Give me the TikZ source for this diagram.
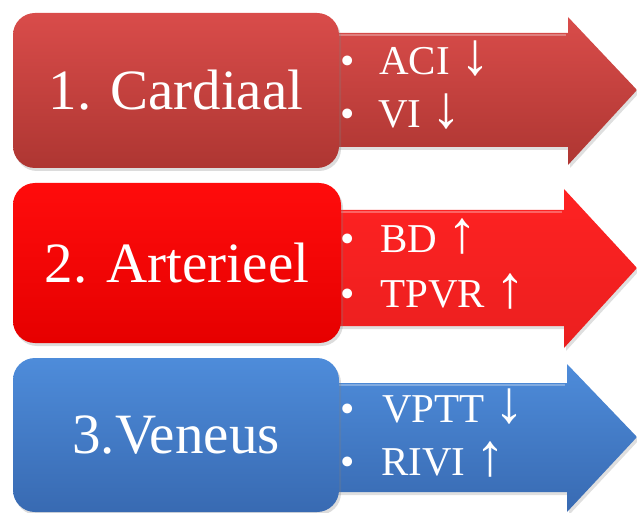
\documentclass[tikz,border=0pt]{standalone}
\usepackage{fontspec}
\setmainfont{Liberation Serif}
\usetikzlibrary{shadows}
\definecolor{cAtop}{RGB}{217,76,74}
\definecolor{cAbot}{RGB}{174,54,50}
\definecolor{cBtop}{RGB}{255,12,12}
\definecolor{cBbot}{RGB}{230,0,0}
\definecolor{cBarr}{RGB}{255,34,34}
\definecolor{cCtop}{RGB}{78,140,218}
\definecolor{cCbot}{RGB}{56,106,178}
\newcommand{\dnarr}{{\fontsize{60}{60}\selectfont ↓}}
\newcommand{\uparr}{{\fontsize{60}{60}\selectfont ↑}}
\tikzset{
  box/.style={rounded corners=22pt, inner sep=0pt, text=white,
    font=\fontsize{57}{60}\selectfont,
    drop shadow={opacity=0.28, shadow xshift=2pt, shadow yshift=-3pt}},
  arrowbody/.style={drop shadow={opacity=0.25, shadow xshift=2pt, shadow yshift=-3pt}},
  hilite/.style={draw=white, draw opacity=0.3, line width=2pt},
  item/.style={inner sep=0pt, text=white, font=\fontsize{41}{44}\selectfont},
}
\begin{document}
\begin{tikzpicture}[x=1pt,y=-1pt]
\useasboundingbox (0,0) rectangle (637,513);
% ---- row 1 ----
\path[arrowbody, top color=cAtop, bottom color=cAbot]
  (330,33) -- (568,33) -- (568,17) -- (637,90) -- (568,165) -- (568,147) -- (330,147) -- cycle;
\path[hilite] (330,35) -- (566,35);
\node[box, top color=cAtop, bottom color=cAbot, minimum width=326pt, minimum height=155pt]
  (card) at (176,90.5) {1. Cardiaal};
\node[item, anchor=base] (b1) at (348,75) {•};
\node[item, anchor=base west] (aci) at (379,75) {ACI \dnarr};
\node[item, anchor=base] (b2) at (348,128) {•};
\node[item, anchor=base west] (vi) at (378,128) {VI \dnarr};
% ---- row 2 ----
\path[arrowbody, top color=cBarr, bottom color=cBarr!92!black]
  (330,210) -- (564,210) -- (564,189) -- (637,268) -- (564,348) -- (564,326) -- (330,326) -- cycle;
\path[hilite] (330,212) -- (562,212);
\node[box, top color=cBtop, bottom color=cBbot, minimum width=328pt, minimum height=160pt]
  (art) at (177,263) {2. Arterieel};
\node[item, anchor=base] (b3) at (348,252) {•};
\node[item, anchor=base west] (bd) at (380,252) {BD \uparr};
\node[item, anchor=base] (b4) at (348,307) {•};
\node[item, anchor=base west] (tpvr) at (380,307) {TPVR \uparr};
% ---- row 3 ----
\path[arrowbody, top color=cCtop, bottom color=cCbot]
  (330,383) -- (567,383) -- (567,364) -- (637,437) -- (567,512) -- (567,492) -- (330,492) -- cycle;
\path[hilite] (330,385) -- (565,385);
\node[box, top color=cCtop, bottom color=cCbot, minimum width=326pt, minimum height=154pt]
  (ven) at (176,435) {3.Veneus};
\node[item, anchor=base] (b5) at (348,422) {•};
\node[item, anchor=base west] (vptt) at (382,422) {VPTT \dnarr};
\node[item, anchor=base] (b6) at (348,475) {•};
\node[item, anchor=base west] (rivi) at (381,475) {RIVI \uparr};
\end{tikzpicture}
\end{document}
